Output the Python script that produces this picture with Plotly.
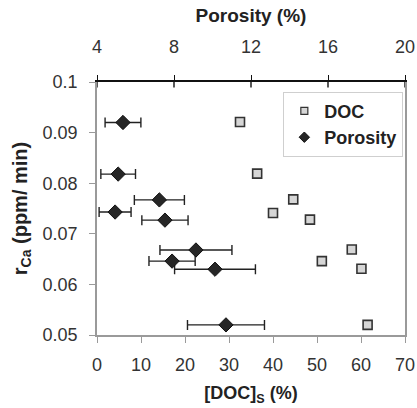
import plotly.graph_objects as go

# Data
r_ca_doc = [0.0921, 0.0819, 0.0768, 0.0741, 0.0728, 0.0669, 0.0646, 0.0631, 0.0520]
doc_s = [32.5, 36.4, 44.6, 40.0, 48.4, 57.9, 51.1, 60.1, 61.5]
r_ca_por = [0.0920, 0.0818, 0.0743, 0.0767, 0.0727, 0.0668, 0.0646, 0.0630, 0.0520]
porosity = [5.35, 5.1, 4.94, 7.24, 7.53, 9.14, 7.9, 10.13, 10.7]
porosity_err = [0.93, 0.9, 0.83, 1.3, 1.2, 1.87, 1.2, 2.1, 2.0]

doc_ticks = [0, 10, 20, 30, 40, 50, 60, 70]
por_ticks = [4, 8, 12, 16, 20]
y_ticks = [0.05, 0.06, 0.07, 0.08, 0.09, 0.1]
y_tick_text = ["0.05", "0.06", "0.07", "0.08", "0.09", "0.1"]

FONT = "Liberation Sans, Arial, sans-serif"
TXT = "#222222"
TICKTXT = "#333333"
GRAY = "#9a9a9a"

sq_marker = dict(symbol="square", size=9, color="#d6d6d6",
                 line=dict(color="#333333", width=1.6))
di_marker = dict(symbol="diamond", size=11, color="#262626",
                 line=dict(color="#111111", width=1))

fig = go.Figure()
fig.add_trace(go.Scatter(
    x=doc_s, y=r_ca_doc, mode="markers", name="DOC", showlegend=False,
    marker=sq_marker, xaxis="x", yaxis="y"))
fig.add_trace(go.Scatter(
    x=porosity, y=r_ca_por, mode="markers", name="Porosity", showlegend=False,
    marker=di_marker,
    error_x=dict(type="data", array=porosity_err, visible=True,
                 color="#222222", thickness=1.4, width=5),
    xaxis="x2", yaxis="y"))
# legend entries (smaller symbols, as in the reference)
fig.add_trace(go.Scatter(x=[None], y=[None], mode="markers", name="DOC",
                         marker=dict(sq_marker, size=7, line=dict(color="#333333", width=1.2)),
                         xaxis="x", yaxis="y"))
fig.add_trace(go.Scatter(x=[None], y=[None], mode="markers", name="Porosity",
                         marker=dict(di_marker, size=8),
                         xaxis="x", yaxis="y"))

fig.update_layout(
    width=417, height=408,
    margin=dict(l=97, r=12, t=82, b=73, autoexpand=False),
    paper_bgcolor="white", plot_bgcolor="white",
    font=dict(family=FONT, color=TXT, size=14),
    showlegend=True,
    legend=dict(x=0.605, y=0.962, xanchor="left", yanchor="top",
                bordercolor="#cfcfcf", borderwidth=1, bgcolor="white",
                font=dict(size=18, weight="bold", color=TXT),
                itemwidth=30, tracegroupgap=0),
    xaxis=dict(range=[0, 70], tickvals=doc_ticks, showgrid=False, zeroline=False,
               showline=True, linecolor=GRAY, linewidth=1.5, automargin=False,
               ticks="outside", ticklen=6, tickcolor=GRAY, tickwidth=1.2,
               ticklabelstandoff=7, ticklabeloverflow="allow",
               tickfont=dict(size=18, color=TICKTXT),
               title=dict(text="<b>[DOC]<sub>S</sub> (%)</b>", standoff=12,
                          font=dict(size=18, color=TXT))),
    xaxis2=dict(range=[4, 20], tickvals=por_ticks, overlaying="x", side="top",
                anchor="y", showgrid=False, zeroline=False, automargin=False,
                showline=True, linecolor="#111111", linewidth=1.6,
                ticks="outside", ticklen=5, tickcolor="#111111", tickwidth=1.4,
                ticklabelstandoff=15, ticklabeloverflow="allow",
                tickfont=dict(size=18, color=TICKTXT),
                title=dict(text="<b>Porosity (%)</b>", standoff=9,
                           font=dict(size=19, color=TXT))),
    yaxis=dict(range=[0.05, 0.1], tickvals=y_ticks, ticktext=y_tick_text,
               showgrid=False, zeroline=False, automargin=False,
               showline=True, linecolor=GRAY, linewidth=1.5, mirror=True,
               ticks="outside", ticklen=6, tickcolor=GRAY, tickwidth=1.2,
               ticklabelstandoff=8,
               tickfont=dict(size=18, color=TICKTXT),
               title=dict(text="<b>r<sub>Ca</sub> (ppm/ min)</b>", standoff=10,
                          font=dict(size=20, color=TXT))),
)

# short inner half of the top tick marks (ticks cross the top axis line)
for v in por_ticks:
    fig.add_shape(type="line", xref="x2", yref="paper", x0=v, x1=v, y0=1, y1=0.978,
                  line=dict(color="#111111", width=1.4))

fig.write_html("out.html")
